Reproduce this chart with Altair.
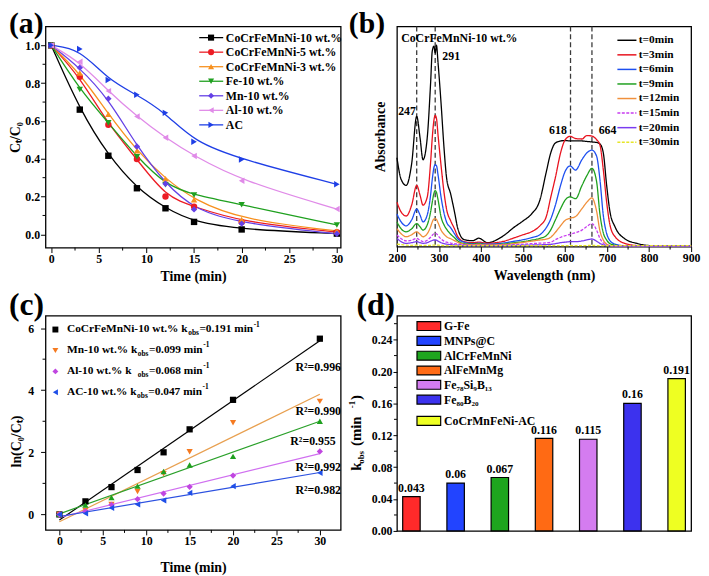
import altair as alt
import pandas as pd

FONT = "Liberation Serif"

# ---------------- panel (a) : Ct/C0 vs time ----------------
time_a = [0, 3, 6, 9, 12, 15, 20, 30]
names_a = ["CoCrFeMnNi-10 wt.%", "CoCrFeMnNi-5 wt.%", "CoCrFeMnNi-3 wt.%",
           "Fe-10 wt.%", "Mn-10 wt.%", "Al-10 wt.%", "AC"]
colors_a = ["#000000", "#ec1c24", "#f7901e", "#1fa01f", "#6440e6", "#e08be8", "#1f3fe6"]
shapes_a = ["square", "circle", "triangle-up", "triangle-down", "diamond",
            "triangle-left", "triangle-right"]
hea10_a = [1.0, 0.66, 0.416, 0.244, 0.138, 0.066, 0.026, 0.004]
hea5_a = [1.0, 0.834, 0.58, 0.399, 0.2, 0.147, 0.065, 0.012]
hea3_a = [1.0, 0.854, 0.636, 0.442, 0.294, 0.183, 0.078, 0.018]
fe10_a = [1.0, 0.767, 0.59, 0.411, 0.262, 0.208, 0.157, 0.05]
mn10_a = [1.0, 0.882, 0.718, 0.465, 0.268, 0.132, 0.057, 0.003]
al10_a = [1.0, 0.913, 0.758, 0.624, 0.511, 0.415, 0.284, 0.134]
ac_a = [1.0, 0.981, 0.817, 0.739, 0.643, 0.49, 0.396, 0.265]
series_a = [hea10_a, hea5_a, hea3_a, fe10_a, mn10_a, al10_a, ac_a]
xticks_a = [0, 5, 10, 15, 20, 25, 30]
xminor_a = [2.5, 7.5, 12.5, 17.5, 22.5, 27.5]
yticks_a = [0.0, 0.2, 0.4, 0.6, 0.8, 1.0]
yminor_a = [0.1, 0.3, 0.5, 0.7, 0.9]

# ---------------- panel (b) : UV-vis spectra ----------------
wl_b = [200, 210, 222, 235, 247, 255, 262, 272, 280, 284, 288, 291, 294, 298, 305,
        312, 318, 328, 337, 345, 360, 380, 395, 415, 450, 480, 500, 520, 540, 555,
        566, 577, 590, 600, 612, 625, 640, 652, 664, 675, 683, 691, 699, 707, 719,
        742, 773, 805, 850, 900]
names_b = ["t=0min", "t=3min", "t=6min", "t=9min", "t=12min", "t=15min", "t=20min", "t=30min"]
colors_b = ["#000000", "#e8121e", "#1d4ff0", "#1fa01f", "#f0903c", "#c83cf0", "#7a3cf0", "#e6e628"]
dashes_b = [[1, 0], [1, 0], [1, 0], [1, 0], [1, 0], [3, 1.5], [1, 0], [3, 1.5]]
abs_t0 = [90, 68, 62, 84, 132, 110, 88, 110, 165, 198, 203, 196, 204, 185, 145,
          100, 70, 53, 35, 18, 7, 6, 8.5, 4, 10, 20, 26, 33, 47, 75,
          95, 105, 107, 107.5, 107, 107, 107, 106.5, 106, 105.5, 104, 95, 62, 35, 20,
          8, 3, 1, 0.6, 0.5]
abs_t3 = [45, 35, 31, 42, 62, 52, 42, 50, 85, 110, 128, 133, 130, 112, 82,
          55, 38, 26, 18, 10, 5, 4, 4.5, 3.5, 5, 9, 12, 15, 21, 30,
          50, 70, 96, 108, 111.7, 109.5, 109, 112.5, 112, 108.3, 103, 78, 45, 21.7, 10,
          3.3, 1, 0.6, 0.5, 0.5]
abs_t6 = [33, 25, 21, 27, 38, 32, 25, 32, 52, 68, 80, 83, 82, 72, 50,
          34, 25, 19, 13, 8, 4.5, 3, 3.5, 2.5, 3.5, 5.5, 7, 9, 12, 19,
          28, 42, 63, 76, 81.7, 77.5, 88, 95, 97.7, 91.7, 68, 31.7, 13.3, 6, 2.5,
          0.8, 0.5, 0.5, 0.5, 0.5]
abs_t9 = [25, 18, 15, 18, 23.3, 20, 16.7, 22, 35, 45, 54, 56.7, 55, 47, 30,
          22, 17.7, 12.5, 9, 5.7, 3, 2.5, 3, 2, 2.5, 4, 5, 6.5, 8.3, 11,
          17, 27, 39, 47, 50.5, 48.5, 61.7, 72, 79.3, 66, 33, 14, 6.7, 3, 1.5,
          0.6, 0.5, 0.5, 0.5, 0.5]
abs_t12 = [18.3, 13, 10, 12, 15, 12.5, 10, 13, 20, 25, 28, 28.3, 27.5, 24, 16.7,
           12.5, 10, 8, 6, 4.3, 2.5, 2, 2.2, 1.8, 2, 3.2, 4.3, 5.5, 6.7, 7.5,
           9.5, 14.5, 21.5, 26.5, 28.7, 30.5, 38.3, 45, 49.3, 36, 16, 6.7, 2.5, 1.2, 0.8,
           0.5, 0.5, 0.5, 0.5, 0.5]
abs_t15 = [11.7, 8, 5.7, 6.5, 8.3, 6.5, 5, 6.5, 9.5, 11.5, 13, 13.3, 13, 11, 7.7,
           5.5, 4.5, 3.5, 3, 2.5, 1.8, 1.5, 1.6, 1.4, 1.5, 2, 2.5, 3, 3.5, 3.8,
           4.5, 7, 9.5, 11, 12.5, 14, 16.7, 20.5, 23.3, 16.7, 8.3, 3.5, 1.5, 1, 0.7,
           0.5, 0.5, 0.5, 0.5, 0.5]
abs_t20 = [8.3, 5, 3.3, 4, 5, 4, 3.3, 4, 5.5, 6.2, 6.7, 6.7, 6.5, 5.5, 4,
           3, 2.5, 2, 1.7, 1.5, 1.2, 1, 1, 1, 1, 1.2, 1.4, 1.6, 1.8, 2,
           2.3, 3, 4, 4.5, 5, 5, 5.7, 6.8, 7.7, 5.5, 3.3, 1.8, 1.2, 0.9, 0.7,
           0.5, 0.5, 0.5, 0.5, 0.5]
abs_t30 = [2.5, 2, 1.5, 1.3, 1.4, 1.3, 1.2, 1.2, 1.3, 1.4, 1.5, 1.5, 1.5, 1.4, 1.2,
           1.1, 1, 1, 1, 1, 1, 1, 1, 1, 1, 1, 1, 1, 1, 1,
           1, 1, 1, 1, 1, 1, 1, 1.1, 1.2, 1.1, 1, 1, 1, 1, 1,
           1, 1, 1, 1, 1]
series_b = [abs_t0, abs_t3, abs_t6, abs_t9, abs_t12, abs_t15, abs_t20, abs_t30]
peaks_b = [247, 291, 613, 664]
peak_labels_b = ["CoCrFeMnNi-10 wt.%", "291", "247", "618", "664"]
peak_label_wl_b = [210, 308, 203, 562, 680]
peak_label_abs_b = [211, 193, 137, 118, 118]
xticks_b = [200, 300, 400, 500, 600, 700, 800, 900]
xminor_b = [250, 350, 450, 550, 650, 750, 850]

# ---------------- panel (c) : ln(C0/Ct) vs time ----------------
time_c = [0, 3, 6, 9, 12, 15, 20, 30]
names_c = ["CoCrFeMnNi-10 wt.%", "Mn-10 wt.%", "Fe-10 wt.%", "Al-10 wt.%", "AC-10 wt.%"]
colors_c = ["#000000", "#f57a20", "#1ea01e", "#c046e0", "#1f4fe8"]
line_colors_c = ["#000000", "#e8a050", "#2aa02a", "#d070f0", "#2b50e0"]
shapes_c = ["square", "triangle-down", "triangle-up", "diamond", "triangle-left"]
hea10_c = [0, 0.42, 0.88, 1.43, 2.0, 2.74, 3.69, 5.66]
mn10_c = [0, 0.13, 0.32, 0.74, 1.31, 2.02, 2.95, 3.64]
fe10_c = [0, 0.30, 0.54, 0.91, 1.38, 1.59, 1.87, 3.0]
al10_c = [0, 0.10, 0.31, 0.49, 0.67, 0.89, 1.25, 2.03]
ac10_c = [0, 0.03, 0.21, 0.32, 0.45, 0.69, 0.91, 1.34]
series_c = [hea10_c, mn10_c, fe10_c, al10_c, ac10_c]
legend_main_c = ["CoCrFeMnNi-10 wt.% k", "Mn-10 wt.% k", "Al-10 wt.%   k", "AC-10 wt.% k"]
legend_k_c = ["=0.191 min", "=0.099 min", "=0.068 min", "=0.047 min"]
legend_idx_c = [0, 1, 3, 4]
r2_c = ["R²=0.996", "R²=0.990", "R²=0.955", "R²=0.992", "R²=0.982"]
r2_t_c = [27.2, 27.2, 26.6, 27.2, 27.2]
r2_v_c = [4.75, 3.32, 2.36, 1.54, 0.80]
xticks_c = [0, 5, 10, 15, 20, 25, 30]
xminor_c = [2.5, 7.5, 12.5, 17.5, 22.5, 27.5]
yticks_c = [0, 2, 4, 6]
yminor_c = [1, 3, 5]

# ---------------- panel (d) : k_obs comparison ----------------
names_d = ["G-Fe", "MNPs@C", "AlCrFeMnNi", "AlFeMnMg", "Fe₇₈Si₉B₁₃", "Fe₈₀B₂₀", "CoCrMnFeNi-AC"]
kobs_d = [0.043, 0.06, 0.067, 0.116, 0.115, 0.16, 0.191]
labels_d = ["0.043", "0.06", "0.067", "0.116", "0.115", "0.16", "0.191"]
colors_d = ["#ff2a2a", "#2244ff", "#1ea51e", "#ff6a14", "#d47cf0", "#3c32ee", "#eeff22"]
yticks_d = [0.0, 0.04, 0.08, 0.12, 0.16, 0.20, 0.24]
yminor_d = [0.02, 0.06, 0.10, 0.14, 0.18, 0.22, 0.26]

# ---------------- helpers ----------------
TW = {' ': 250, '%': 1000, '-': 333, '.': 250, '=': 570, 'A': 722, 'C': 722, 'F': 611,
      'M': 944, 'N': 722, 'b': 556, 'e': 444, 'i': 278, 'k': 556, 'l': 278, 'm': 833,
      'n': 556, 'o': 500, 'r': 444, 's': 389, 't': 333, 'w': 722}


def text_width(s, size):
    return sum(TW.get(c, 500) for c in s) / 1000.0 * size


def text_at(s, x, y, size=12, align="left", baseline="middle", angle=0, color="black"):
    kw = dict(align=align, baseline=baseline, font=FONT, fontWeight="bold",
              fontSize=size, color=color)
    if angle:
        kw["angle"] = angle
    return alt.Chart(pd.DataFrame({"label": [s]})).mark_text(**kw).encode(
        text="label:N", x=alt.value(x), y=alt.value(y))


def seg_at(x1, x2, y, color, dash=None, width=1.3):
    kw = dict(color=color, strokeWidth=width)
    if dash is not None:
        kw["strokeDash"] = dash
    return alt.Chart(pd.DataFrame({"a": [0]})).mark_rule(**kw).encode(
        x=alt.value(x1), x2=alt.value(x2), y=alt.value(y))


def point_at(x, y, shape, color, size=40):
    return alt.Chart(pd.DataFrame({"a": [0]})).mark_point(
        shape=shape, filled=True, size=size, color=color, opacity=1).encode(
        x=alt.value(x), y=alt.value(y))


def rect_at(x1, x2, y1, y2, color):
    return alt.Chart(pd.DataFrame({"a": [0]})).mark_rect(
        color=color, stroke="black", strokeWidth=1.2).encode(
        x=alt.value(x1), x2=alt.value(x2), y=alt.value(y1), y2=alt.value(y2))


def minor_x(vals, field, X, H):
    return alt.Chart(pd.DataFrame({field: vals})).mark_rule(color="black", strokeWidth=1).encode(
        x=X, y=alt.value(H), y2=alt.value(H + 3))


def minor_y(vals, field, Y):
    return alt.Chart(pd.DataFrame({field: vals})).mark_rule(color="black", strokeWidth=1).encode(
        y=Y, x=alt.value(0), x2=alt.value(-3))


def long_df(xs, names, series, xf, yf):
    rows = []
    for n, vals in zip(names, series):
        for x, v in zip(xs, vals):
            rows.append({xf: x, yf: v, "s": n})
    return pd.DataFrame(rows)


# ---------------- panel (a) ----------------
W1, H1 = 299, 224
df_a = long_df(time_a, names_a, series_a, "t", "v")
X_a = alt.X("t:Q", scale=alt.Scale(domain=[-0.6, 30.4], nice=False, zero=False),
            axis=alt.Axis(values=xticks_a, title="Time (min)", titlePadding=5))
Y_a = alt.Y("v:Q", scale=alt.Scale(domain=[-0.07, 1.1], nice=False, zero=False),
            axis=alt.Axis(values=yticks_a, format=".1f", title="Cₜ/C₀", titlePadding=2))
C_a = alt.Color("s:N", scale=alt.Scale(domain=names_a, range=colors_a), legend=None)
S_a = alt.Shape("s:N", scale=alt.Scale(domain=names_a, range=shapes_a), legend=None)
layers_a = [
    alt.Chart(df_a).mark_line(interpolate="basis", strokeWidth=1.3).encode(x=X_a, y=Y_a, color=C_a),
    alt.Chart(df_a).mark_point(filled=True, size=42, opacity=1).encode(x=X_a, y=Y_a, color=C_a, shape=S_a),
    minor_x(xminor_a, "t", X_a, H1),
    minor_y(yminor_a, "v", Y_a),
]
for i, (n, c, sh) in enumerate(zip(names_a, colors_a, shapes_a)):
    yy = 11.3 + 14.73 * i
    layers_a += [seg_at(155.7, 180, yy, c), point_at(167.7, yy, sh, c, 38),
                 text_at(n, 182.7, yy, 12)]
layers_a.append(text_at("(a)", -37, -17, 30, baseline="top"))
panel_a = alt.layer(*layers_a).properties(width=W1, height=H1)

# ---------------- panel (b) ----------------
W2, H2 = 298, 223
df_b = long_df(wl_b, names_b, series_b, "w", "a")
X_b = alt.X("w:Q", scale=alt.Scale(domain=[200, 900], nice=False, zero=False),
            axis=alt.Axis(values=xticks_b, title="Wavelength (nm)", titlePadding=5))
Y_b = alt.Y("a:Q", scale=alt.Scale(domain=[0, 223], nice=False, zero=False),
            axis=alt.Axis(labels=False, ticks=False, title="Absorbance", titlePadding=10))
C_b = alt.Color("s:N", scale=alt.Scale(domain=names_b, range=colors_b), legend=None)
D_b = alt.StrokeDash("s:N", scale=alt.Scale(domain=names_b, range=dashes_b), legend=None)
df_peaks = pd.DataFrame({"w": peaks_b})
df_plab = pd.DataFrame({"w": peak_label_wl_b, "a": peak_label_abs_b, "label": peak_labels_b})
layers_b = [
    alt.Chart(df_peaks).mark_rule(color="#3a3a3a", strokeDash=[5, 3], strokeWidth=1.3).encode(x=X_b),
    alt.Chart(df_b).mark_line(interpolate="monotone", strokeWidth=1.3).encode(
        x=X_b, y=Y_b, color=C_b, strokeDash=D_b, order=alt.Order("s:N")),
    alt.Chart(df_plab).mark_text(align="left", baseline="middle", font=FONT, fontWeight="bold",
                                 fontSize=12, color="black").encode(x=X_b, y=Y_b, text="label:N"),
    minor_x(xminor_b, "w", X_b, H2),
]
for i, (n, c, d) in enumerate(zip(names_b, colors_b, dashes_b)):
    yy = 14 + 14.75 * i
    layers_b += [seg_at(223.3, 242.6, yy, c, d if d[1] else None, 1.5), text_at(n, 245, yy, 11.5)]
layers_b.append(text_at("(b)", -48.7, -17, 30, baseline="top"))
panel_b = alt.layer(*layers_b).properties(width=W2, height=H2)

# ---------------- panel (c) ----------------
W3, H3 = 299, 217
df_c = long_df(time_c, names_c, series_c, "t", "v")
X_c = alt.X("t:Q", scale=alt.Scale(domain=[-1.6, 32.4], nice=False, zero=False),
            axis=alt.Axis(values=xticks_c, title="Time (min)", titlePadding=14))
Y_c = alt.Y("v:Q", scale=alt.Scale(domain=[-0.5, 6.4], nice=False, zero=False),
            axis=alt.Axis(values=yticks_c, title="ln(C₀/Cₜ)", labelPadding=7, titlePadding=4,
                          titleY=127))
CL_c = alt.Color("s:N", scale=alt.Scale(domain=names_c, range=line_colors_c), legend=None)
CP_c = alt.Color("s:N", scale=alt.Scale(domain=names_c, range=colors_c), legend=None)
S_c = alt.Shape("s:N", scale=alt.Scale(domain=names_c, range=shapes_c), legend=None)
df_r2 = pd.DataFrame({"t": r2_t_c, "v": r2_v_c, "label": r2_c})
lines_c = alt.Chart(df_c).transform_regression("t", "v", groupby=["s"]).mark_line(
    strokeWidth=1.2).encode(x=X_c, y=Y_c, color=CL_c)
points_c = alt.Chart(df_c).mark_point(filled=True, size=40, opacity=1).encode(
    x=X_c, y=Y_c, color=CP_c, shape=S_c)
layers_c = [
    lines_c, points_c,
    alt.Chart(df_r2).mark_text(align="left", baseline="middle", font=FONT, fontWeight="bold",
                               fontSize=12, color="black").encode(x=X_c, y=Y_c, text="label:N"),
    minor_x(xminor_c, "t", X_c, H3),
    minor_y(yminor_c, "v", Y_c),
]
FS_C = 11.5
for r, (main, kv, idx) in enumerate(zip(legend_main_c, legend_k_c, legend_idx_c)):
    yy = 14 + 21.2 * r
    x0 = 21.7
    x_obs = x0 + text_width(main, FS_C) + 0.5
    x_val = x_obs + text_width("obs", 7.5) + 0.5
    x_sup = x_val + text_width(kv, FS_C) + 0.5
    layers_c += [point_at(10, yy, shapes_c[idx], colors_c[idx], 36),
                 text_at(main, x0, yy, FS_C),
                 text_at("obs", x_obs, yy + 4, 7.5),
                 text_at(kv, x_val, yy, FS_C),
                 text_at("-1", x_sup, yy - 5, 7.5)]
layers_c.append(text_at("(c)", -37, -25.5, 32, baseline="top"))
panel_c = alt.layer(*layers_c).resolve_scale(color="independent").properties(width=W3, height=H3)

# ---------------- panel (d) ----------------
W4, H4 = 298, 218
df_d = pd.DataFrame({"n": names_d, "k": kobs_d, "label": labels_d})
X_d = alt.X("n:N", sort=names_d, scale=alt.Scale(paddingInner=0.605, paddingOuter=0.13), axis=None)
Y_d = alt.Y("k:Q", scale=alt.Scale(domain=[0, 0.27], nice=False, zero=False),
            axis=alt.Axis(values=yticks_d, format=".2f", title=None, tickSize=4))
F_d = alt.Fill("n:N", scale=alt.Scale(domain=names_d, range=colors_d), legend=None)
layers_d = [
    alt.Chart(df_d).mark_bar(stroke="black", strokeWidth=1.2).encode(x=X_d, y=Y_d, fill=F_d),
    alt.Chart(df_d).mark_text(baseline="bottom", dy=-2, font=FONT, fontWeight="bold",
                              fontSize=12, color="black").encode(x=X_d, y=Y_d, text="label:N"),
    minor_y(yminor_d, "k", Y_d),
]
rows_d = [10.5, 25.5, 40.5, 55.5, 70, 85, 106.5]
for n, c, yy in zip(names_d, colors_d, rows_d):
    layers_d += [rect_at(20.3, 44.3, yy - 4.5, yy + 4.5, c), text_at(n, 47.6, yy, 12)]
layers_d += [
    text_at("k", -41, 153, 15, align="center", angle=270),
    text_at("obs", -36.5, 143.5, 9, align="center", angle=270),
    text_at("(min", -41, 117, 15, align="center", angle=270),
    text_at("-1", -46, 90, 9, align="center", angle=270),
    text_at(")", -41, 83, 15, align="center", angle=270),
    text_at("(d)", -41, -25.5, 32, baseline="top"),
]
panel_d = alt.layer(*layers_d).properties(width=W4, height=H4)

chart = alt.concat(
    panel_a, panel_b, panel_c, panel_d,
    columns=2, spacing={"row": 69, "column": 57}, bounds="flush",
).resolve_scale(
    color="independent", shape="independent", strokeDash="independent", fill="independent",
    x="independent", y="independent",
).properties(padding={"top": -3, "left": 0, "right": 0, "bottom": 0}).configure_axis(
    labelFont=FONT, labelFontSize=12, labelFontWeight="bold", labelColor="black",
    titleFont=FONT, titleFontSize=14, titleFontWeight="bold", titleColor="black",
    domain=False, grid=False, tickColor="black", tickSize=5, tickWidth=1,
    labelPadding=1, labelFlush=False, labelOverlap=False,
).configure_view(stroke="black", strokeWidth=1.3)

chart.save("out.html", embed_options={"renderer": "svg", "actions": False})
